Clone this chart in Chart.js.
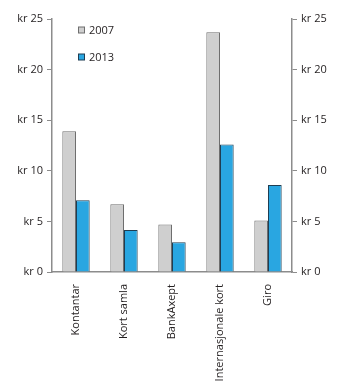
<!DOCTYPE html>
<html>
<head>
<meta charset="utf-8">
<script src="https://cdn.jsdelivr.net/npm/chart.js@4"></script>
<style>
  html, body { margin: 0; padding: 0; background: #fff; }
  #wrap { width: 345px; height: 387px; position: relative; }
</style>
</head>
<body>
<div id="wrap"><canvas id="costChart"></canvas></div>
<script>
const categories = ["Kontantar", "Kort samla", "BankAxept", "Internasjonale kort", "Giro"];
const values2007 = [13.9, 6.7, 4.7, 23.7, 5.1];
const values2013 = [7.1, 4.15, 2.95, 12.6, 8.6];
const yTicks = [0, 5, 10, 15, 20, 25];

const axisGray = "#8c8c8c";
const textColor = "#231f20";
const font = { family: "'Open Sans', 'Noto Sans', sans-serif", size: 11 };

// small legend drawn inside the plot, top left
const innerLegend = {
  id: "innerLegend",
  afterDatasetsDraw(chart) {
    const ctx = chart.ctx;
    ctx.save();
    ctx.font = "11px 'Open Sans', 'Noto Sans', sans-serif";
    ctx.textBaseline = "middle";
    chart.data.datasets.forEach((ds, i) => {
      const y = 30 + i * 27;
      ctx.fillStyle = ds.backgroundColor;
      ctx.strokeStyle = ds.borderColor;
      ctx.lineWidth = 1;
      ctx.fillRect(78.5, y - 3, 6, 6);
      ctx.strokeRect(78.5, y - 3, 6, 6);
      ctx.fillStyle = textColor;
      ctx.fillText(ds.label, 89, y + 0.5);
    });
    ctx.restore();
  },
};

const yScale = (position) => ({
  position: position,
  min: 0,
  max: 25,
  afterBuildTicks(scale) {
    scale.ticks = yTicks.map((v) => ({ value: v }));
  },
  afterFit(scale) {
    scale.width = position === "left" ? 52 : 53;
  },
  grid: {
    drawOnChartArea: false,
    drawTicks: true,
    tickLength: 5,
    color: axisGray,
    lineWidth: 1,
  },
  border: { display: true, color: axisGray, width: 1.5 },
  ticks: {
    color: textColor,
    font: font,
    padding: 4,
    callback: (v) => "kr " + v,
  },
});

new Chart(document.getElementById("costChart"), {
  type: "bar",
  data: {
    labels: categories,
    datasets: [
      {
        label: "2007",
        data: values2007,
        backgroundColor: "#cfcfcf",
        borderColor: "#6e6e6e",
        borderWidth: 1,
        yAxisID: "y",
      },
      {
        label: "2013",
        data: values2013,
        backgroundColor: "#29a6e1",
        borderColor: "#1f3d52",
        borderWidth: 1,
        yAxisID: "y",
      },
    ],
  },
  options: {
    responsive: true,
    maintainAspectRatio: false,
    animation: false,
    devicePixelRatio: 1,
    layout: { padding: { top: 19, left: 0, right: 0, bottom: 0 } },
    datasets: {
      bar: { categoryPercentage: 0.57, barPercentage: 1.0 },
    },
    plugins: {
      legend: { display: false },
      tooltip: { enabled: false },
    },
    scales: {
      x: {
        afterFit(scale) {
          scale.height = 115;
        },
        grid: { display: false, drawTicks: false },
        border: { display: true, color: axisGray, width: 1.5 },
        ticks: {
          color: textColor,
          font: font,
          minRotation: 90,
          maxRotation: 90,
          padding: 12,
          autoSkip: false,
        },
      },
      y: yScale("left"),
      y2: yScale("right"),
    },
  },
  plugins: [innerLegend],
});
</script>
</body>
</html>
